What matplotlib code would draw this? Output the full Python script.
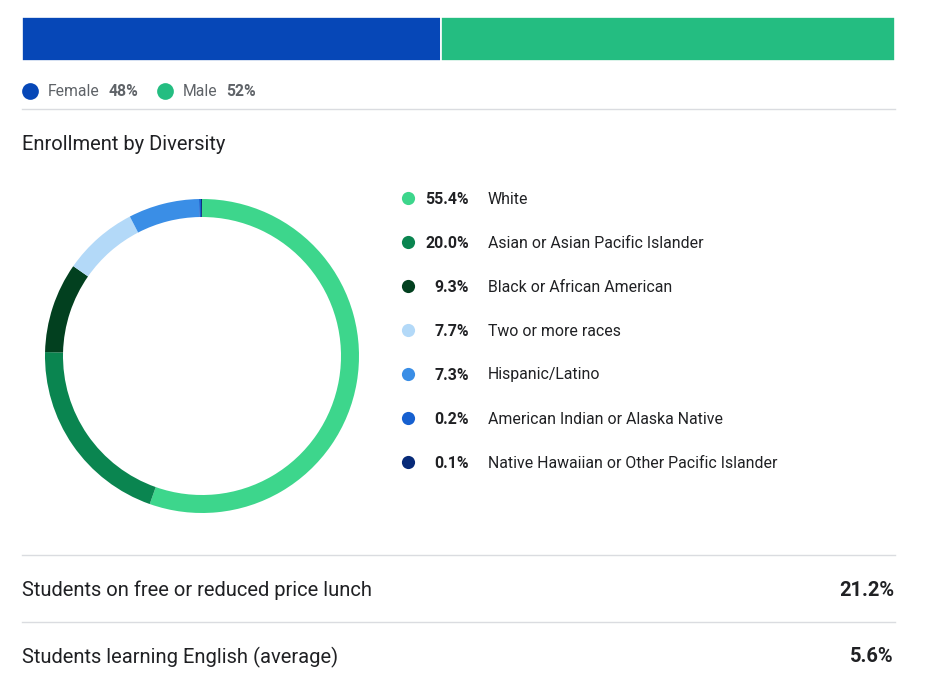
import matplotlib.pyplot as plt

plt.rcParams['font.family'] = ['Roboto', 'DejaVu Sans']

# gender split
gender_labels = ['Female', 'Male']
gender_values = [48, 52]
gender_colors = ['#0647b7', '#24bd81']

# diversity
groups = ['White', 'Asian or Asian Pacific Islander', 'Black or African American',
          'Two or more races', 'Hispanic/Latino', 'American Indian or Alaska Native',
          'Native Hawaiian or Other Pacific Islander']
shares = [55.4, 20.0, 9.3, 7.7, 7.3, 0.2, 0.1]
group_colors = ['#3dd68c', '#0a8550', '#02401f', '#b3d9f8', '#3a8ee6', '#1660d0', '#072a78']

# other stats
stat_labels = ['Students on free or reduced price lunch', 'Students learning English (average)']
stat_values = ['21.2%', '5.6%']

W, H = 925, 686
fig = plt.figure(figsize=(W / 100, H / 100), dpi=100)
ax = fig.add_axes([0, 0, 1, 1])
ax.set_xlim(0, W)
ax.set_ylim(H, 0)
ax.axis('off')

txt = '#202124'
grey = '#5f6368'
rule = '#dadce0'

# stacked gender bar
x0, x1 = 22, 895
left = x0
for v, c in zip(gender_values, gender_colors):
    w = (x1 - x0) * v / sum(gender_values)
    ax.barh(39, w, height=44, left=left, color=c, edgecolor='white', linewidth=1.2)
    left += w

# gender legend
lx = 30
for lab, v, c in zip(gender_labels, gender_values, gender_colors):
    ax.scatter(lx, 91, s=145, color=c, marker='o', linewidths=0)
    t = ax.text(lx + 18, 92, lab, fontsize=11.3, color=grey, va='center', ha='left')
    fig.canvas.draw()
    bb = t.get_window_extent()
    vx = bb.x1 + 9
    t2 = ax.text(vx, 92, f'{v}%', fontsize=11.3, color=grey, va='center', ha='left', fontweight='bold')
    fig.canvas.draw()
    bb2 = t2.get_window_extent()
    lx = bb2.x1 + 26

ax.plot([22, 895], [109, 109], color=rule, lw=1)

ax.text(22, 144, 'Enrollment by Diversity', fontsize=14.5, color=txt, va='center', ha='left')

# donut
cx, cy, r = 202, 356, 157
dax = fig.add_axes([(cx - r) / W, (H - cy - r) / H, 2 * r / W, 2 * r / H])
dax.pie(shares, colors=group_colors, startangle=90, counterclock=False,
        wedgeprops=dict(width=18 / r, linewidth=0))
dax.set_xlim(-1, 1)
dax.set_ylim(-1, 1)
dax.set_aspect('equal')
dax.axis('off')

# diversity legend
for i, (g, s, c) in enumerate(zip(groups, shares, group_colors)):
    y = 198 + 44 * i
    ax.scatter(408, y, s=90, color=c, linewidths=0)
    ax.text(469, y + 1, f'{s:.1f}%', fontsize=11.4, fontweight='bold', color=txt, va='center', ha='right')
    ax.text(488, y + 1, g, fontsize=11.4, color=txt, va='center', ha='left')

# stat rows
for i, (lab, val) in enumerate(zip(stat_labels, stat_values)):
    ly = 555 + 67 * i
    ax.plot([22, 895], [ly, ly], color=rule, lw=1)
    ax.text(22, ly + 35, lab, fontsize=14.5, color=txt, va='center', ha='left')
    ax.text(894, ly + 35, val, fontsize=14.5, color=txt, va='center', ha='right', fontweight='bold')

fig.savefig('out.png', dpi=100)
